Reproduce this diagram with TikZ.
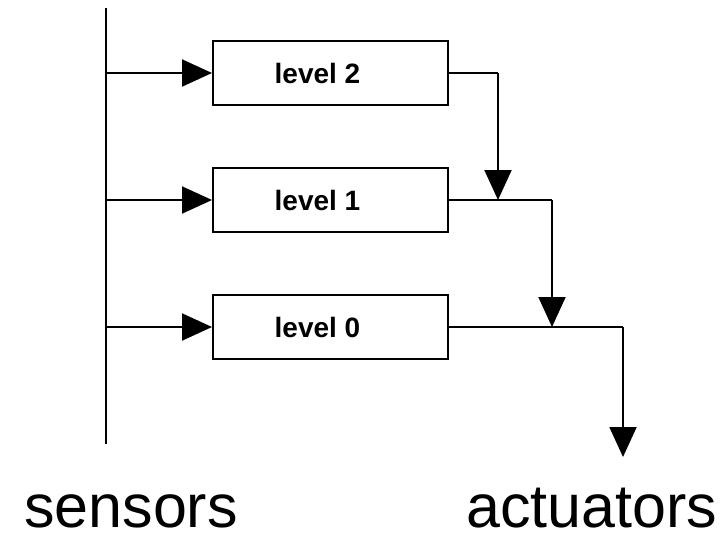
\documentclass[tikz,border=0pt]{standalone}
\usepackage{fontspec}
\setmainfont{Liberation Sans}
\usetikzlibrary{arrows.meta}

\begin{document}
\begin{tikzpicture}[x=1pt, y=-1pt,
  wire/.style={line width=2pt, line join=miter},
  flow/.style={wire, -{Triangle[length=30pt, width=27pt]}},
  levelbox/.style={draw, line width=2pt, minimum width=235pt, minimum height=64pt, inner sep=0pt},
  lvl/.style={font=\bfseries\fontsize{28}{31}\selectfont, inner sep=0pt, xshift=-13pt},
  bigtext/.style={font=\fontsize{61}{66}\selectfont, inner sep=0pt, text depth=0pt, anchor=base}]
  \useasboundingbox (0,0) rectangle (727,533);

  % sensor bus
  \coordinate (stop) at (106,8);
  \coordinate (sbot) at (106,444);
  \draw[wire] (stop) -- (sbot);

  % behaviour levels
  \node[levelbox, label={[lvl]center:level 2}] (l2) at (330.5,73) {};
  \node[levelbox, label={[lvl]center:level 1}] (l1) at (330.5,200) {};
  \node[levelbox, label={[lvl]center:level 0}] (l0) at (330.5,327) {};

  % sensor inputs
  \draw[flow] (l2.west -| stop) -- (l2.west);
  \draw[flow] (l1.west -| stop) -- (l1.west);
  \draw[flow] (l0.west -| stop) -- (l0.west);

  % outputs merge downwards
  \coordinate (c2) at (498,73);
  \coordinate (c1) at (552,200);
  \coordinate (c0) at (623,327);
  \coordinate (act) at (623,457);
  \draw[wire] (l2.east) -- (c2);
  \draw[flow] (c2) -- (c2 |- l1.east);
  \draw[wire] (l1.east) -- (c1);
  \draw[flow] (c1) -- (c1 |- l0.east);
  \draw[wire] (l0.east) -- (c0);
  \draw[flow] (c0) -- (act);

  % labels
  \node[bigtext] (sens) at (131,527) {sensors};
  \node[bigtext] (actu) at (592,527) {actuators};
\end{tikzpicture}
\end{document}
